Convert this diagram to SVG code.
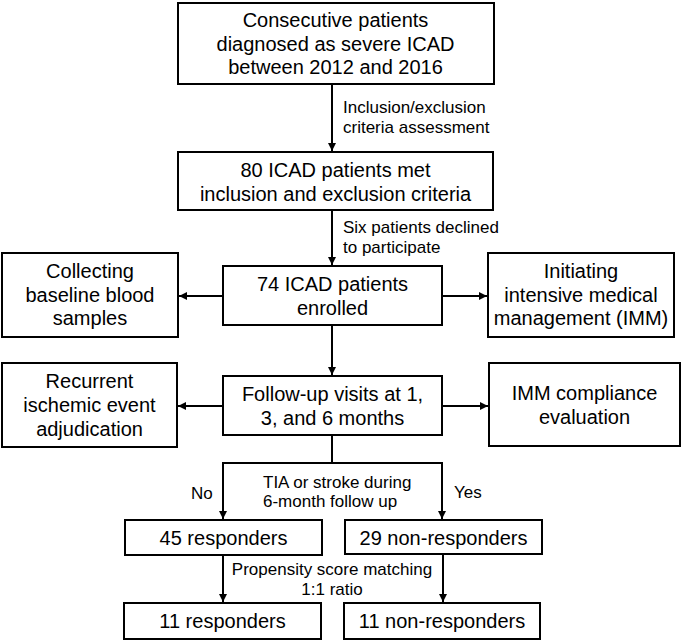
<svg xmlns="http://www.w3.org/2000/svg" width="685" height="640" viewBox="0 0 685 640">
<defs>
<style>
.b{fill:#fff;stroke:#000;stroke-width:2}
.t{font-family:"Liberation Sans",Arial,sans-serif;font-size:20px;fill:#000;text-anchor:middle}
.l{font-family:"Liberation Sans",Arial,sans-serif;font-size:17px;fill:#000}
.c{fill:none;stroke:#000;stroke-width:2}
</style>
<marker id="ah" markerUnits="userSpaceOnUse" markerWidth="8" markerHeight="8" viewBox="0 0 10 10" refX="10" refY="5" orient="auto">
<path d="M0,0 L10,5 L0,10 z" fill="#000"/>
</marker>
</defs>
<g id="connectors">
<path class="c" d="M332,84 V151" marker-end="url(#ah)"/>
<path class="c" d="M332,210 V265" marker-end="url(#ah)"/>
<path class="c" d="M223,296 H179" marker-end="url(#ah)"/>
<path class="c" d="M442,296 H487" marker-end="url(#ah)"/>
<path class="c" d="M332,325 V375" marker-end="url(#ah)"/>
<path class="c" d="M223,406 H178" marker-end="url(#ah)"/>
<path class="c" d="M442,406 H488" marker-end="url(#ah)"/>
<path class="c" d="M332,435 V463 M222,463 H443"/>
<path class="c" d="M223,463 V519" marker-end="url(#ah)"/>
<path class="c" d="M442,463 V519" marker-end="url(#ah)"/>
<path class="c" d="M223,555 V602" marker-end="url(#ah)"/>
<path class="c" d="M443,554 V602" marker-end="url(#ah)"/>
<text class="l" x="343" y="113">Inclusion/exclusion</text>
<text class="l" x="343" y="133">criteria assessment</text>
<text class="l" x="343" y="233">Six patients declined</text>
<text class="l" x="343" y="253">to participate</text>
<text class="l" x="191" y="499">No</text>
<text class="l" x="263" y="488">TIA or stroke during</text>
<text class="l" x="263" y="507">6-month follow up</text>
<text class="l" x="454" y="498">Yes</text>
<text class="l" x="332" y="575" text-anchor="middle">Propensity score matching</text>
<text class="l" x="332" y="595" text-anchor="middle">1:1 ratio</text>
</g>
<g id="n1"><rect class="b" x="178" y="3" width="316" height="81"/>
<text class="t" x="335.5" y="27">Consecutive patients</text>
<text class="t" x="335.5" y="50.5">diagnosed as severe ICAD</text>
<text class="t" x="335.5" y="74">between 2012 and 2016</text></g>
<g id="n2"><rect class="b" x="178" y="152" width="315" height="58"/>
<text class="t" x="335.5" y="177">80 ICAD patients met</text>
<text class="t" x="335.5" y="201">inclusion and exclusion criteria</text></g>
<g id="n3"><rect class="b" x="223" y="266" width="219" height="59"/>
<text class="t" x="332.5" y="291">74 ICAD patients</text>
<text class="t" x="332.5" y="315">enrolled</text></g>
<g id="n4"><rect class="b" x="2" y="253" width="176" height="84"/>
<text class="t" x="90" y="278">Collecting</text>
<text class="t" x="90" y="301.5">baseline blood</text>
<text class="t" x="90" y="325">samples</text></g>
<g id="n5"><rect class="b" x="488" y="253" width="186" height="84"/>
<text class="t" x="581" y="278">Initiating</text>
<text class="t" x="581" y="301.5">intensive medical</text>
<text class="t" x="581" y="325">management (IMM)</text></g>
<g id="n6"><rect class="b" x="223" y="376" width="219" height="59"/>
<text class="t" x="332.5" y="401">Follow-up visits at 1,</text>
<text class="t" x="332.5" y="425">3, and 6 months</text></g>
<g id="n7"><rect class="b" x="2" y="363" width="175" height="84"/>
<text class="t" x="89.5" y="388">Recurrent</text>
<text class="t" x="89.5" y="412">ischemic event</text>
<text class="t" x="89.5" y="436">adjudication</text></g>
<g id="n8"><rect class="b" x="489" y="363" width="191" height="83"/>
<text class="t" x="584.5" y="400">IMM compliance</text>
<text class="t" x="584.5" y="424">evaluation</text></g>
<g id="n9"><rect class="b" x="125" y="520" width="197" height="35"/>
<text class="t" x="223.5" y="545">45 responders</text></g>
<g id="n10"><rect class="b" x="345" y="520" width="197" height="34"/>
<text class="t" x="443.5" y="545">29 non-responders</text></g>
<g id="n11"><rect class="b" x="124" y="603" width="197" height="36"/>
<text class="t" x="222.5" y="628">11 responders</text></g>
<g id="n12"><rect class="b" x="344" y="603" width="196" height="36"/>
<text class="t" x="442" y="628">11 non-responders</text></g>
</svg>
